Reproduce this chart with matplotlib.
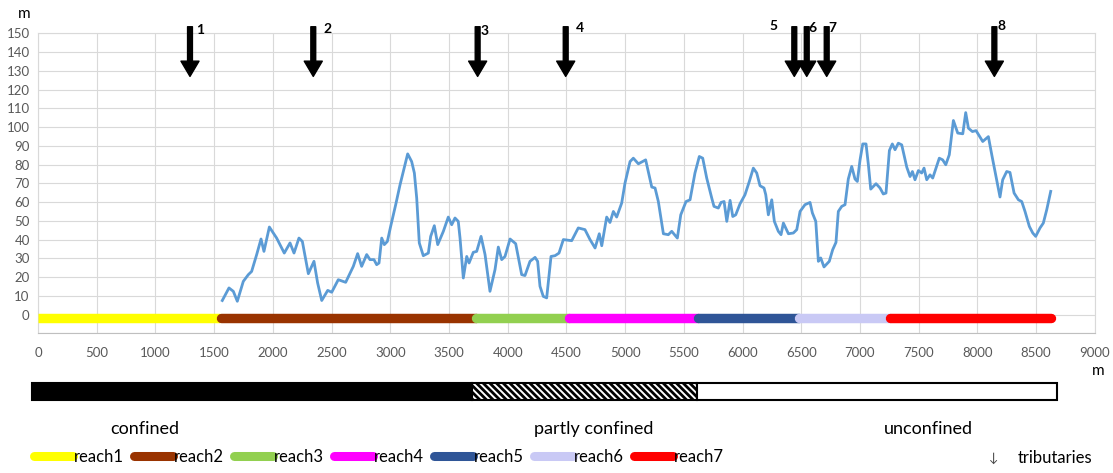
import matplotlib
matplotlib.use("Agg")
import matplotlib.pyplot as plt
from matplotlib.lines import Line2D

plt.rcParams["font.family"] = ["Lato", "DejaVu Sans"]
plt.rcParams["hatch.linewidth"] = 2.0

# ---- data ----
dist = [1569, 1626, 1663, 1697, 1748, 1791, 1819, 1862, 1899, 1924, 1970, 2032, 2097, 2146,
        2180, 2222, 2251, 2302, 2350, 2381, 2416, 2467, 2501, 2557, 2620, 2685, 2722, 2756,
        2799, 2827, 2861, 2884, 2904, 2927, 2949, 2975, 3003, 3046, 3083, 3111, 3148, 3182,
        3205, 3225, 3247, 3281, 3324, 3344, 3375, 3404, 3452, 3494, 3523, 3551, 3579, 3594,
        3622, 3651, 3671, 3707, 3736, 3773, 3807, 3849, 3892, 3920, 3949, 3977, 4020, 4068,
        4119, 4147, 4190, 4233, 4255, 4275, 4303, 4332, 4369, 4403, 4437, 4474, 4545, 4601,
        4658, 4701, 4744, 4780, 4801, 4843, 4871, 4900, 4928, 4971, 4999, 5042, 5070, 5113,
        5175, 5227, 5255, 5283, 5326, 5368, 5397, 5445, 5474, 5519, 5553, 5595, 5632, 5661,
        5695, 5738, 5757, 5794, 5817, 5843, 5866, 5894, 5917, 5942, 5979, 6021, 6058, 6092,
        6121, 6149, 6183, 6198, 6220, 6249, 6271, 6305, 6328, 6348, 6391, 6433, 6462, 6490,
        6532, 6575, 6595, 6624, 6646, 6666, 6694, 6739, 6768, 6796, 6816, 6845, 6873, 6901,
        6930, 6958, 6978, 7001, 7024, 7052, 7072, 7092, 7137, 7171, 7199, 7222, 7251, 7276,
        7299, 7327, 7356, 7399, 7427, 7447, 7469, 7498, 7526, 7546, 7569, 7597, 7620, 7648,
        7676, 7705, 7731, 7761, 7796, 7833, 7876, 7901, 7924, 7958, 7989, 8046, 8094, 8123,
        8159, 8193, 8216, 8250, 8278, 8313, 8350, 8378, 8406, 8443, 8472, 8497, 8534, 8562,
        8591, 8625]
width = [7.5, 14.2, 12.4, 7.1, 17.7, 21.3, 23, 32, 40.3, 33.7, 46.7, 40.8, 32.8, 38.2,
         32.8, 40.8, 39, 21.8, 28.4, 16.9, 7.5, 12.9, 11.9, 18.6, 17.2, 25.7, 32.5, 25.7,
         32, 29.3, 29.3, 26.6, 27.5, 40.8, 37.3, 39, 47, 58.6, 69.2, 76.3, 85.7, 81.6,
         75.5, 62.1, 38.2, 31.4, 32.8, 41.7, 47.4, 37.3, 44.4, 52, 47.9, 51.5, 49.7, 40.8,
         19.5, 31, 27.5, 33.2, 33.7, 41.7, 32, 12.4, 24, 36, 29.3, 31, 40.3, 37.8,
         21.3, 20.8, 28.4, 30.5, 28.4, 15.1, 9.7, 8.9, 31, 31.4, 32.8, 40, 39.4, 46.2,
         45.3, 40, 35.5, 43.1, 36.7, 52, 49.1, 55, 52, 59.5, 70.1, 81.6, 83.4, 80.4,
         82.5, 68, 67.5, 60.3, 43.1, 42.6, 44.4, 40.8, 53.2, 60.3, 61.2, 75.5, 84.3, 83.4,
         72.8, 62.1, 57.7, 56.8, 59.8, 60.3, 49.7, 60.9, 52.3, 53.2, 59.1, 63.9, 71, 78.1,
         75.5, 68.7, 67.5, 63.9, 53.2, 61.2, 49.7, 44.4, 42.6, 48.8, 43.1, 43.5, 45.3, 55,
         58.6, 59.8, 54.2, 49.7, 28.4, 30.2, 25.4, 28.4, 34.6, 38.5, 55, 57.7, 58.6, 72.3,
         79, 72.3, 71, 82.5, 91, 91, 79.9, 66.9, 69.8, 67.5, 64.3, 64.8, 87.5, 91,
         87.9, 91.4, 90.5, 78.6, 73.6, 76.3, 71.9, 76.8, 75.5, 78.1, 71.9, 74.5, 72.8, 78.1,
         83.4, 82.5, 79.9, 85.2, 103.5, 96.8, 96.4, 107.7, 99.4, 97.6, 98.1, 92.3, 94.9, 85.2,
         73.6, 62.7, 71.9, 76.3, 75.8, 64.8, 61.2, 60.3, 55, 47, 43.5, 41.7, 46.2, 48.8,
         55.9, 65.7]

reach_names = ["reach1", "reach2", "reach3", "reach4", "reach5", "reach6", "reach7"]
reach_start = [0, 1555, 3730, 4525, 5625, 6480, 7255]
reach_end = [1550, 3730, 4520, 5625, 6480, 7255, 8625]
reach_colors = ["#ffff00", "#993300", "#92d050", "#ff00ff", "#2f5597", "#c9c9f5", "#ff0000"]

trib_labels = ["1", "2", "3", "4", "5", "6", "7", "8"]
trib_x = [1294, 2344, 3744, 4494, 6441, 6547, 6717, 8145]
trib_label_dx = [85, 120, 60, 120, -180, 45, 45, 60]
trib_label_y = [151.5, 152.5, 151, 153, 154, 153, 153, 154]

conf_names = ["confined", "partly confined", "unconfined"]
conf_start = [-50, 3700, 5610]
conf_end = [3700, 5610, 8680]
conf_label_x = [911, 4734, 7580]

# ---- figure ----
fig = plt.figure(figsize=(11.13, 4.73), dpi=100)
ax = fig.add_axes([0.0342, 0.2953, 0.9494, 0.6343])

ax.plot(dist, width, color="#5b9bd5", lw=2.0, zorder=3)

for i, (s, e, c) in enumerate(zip(reach_start, reach_end, reach_colors)):
    ax.plot([s, e], [-2, -2], color=c, lw=6.8,
            solid_capstyle="butt" if i == 0 else "round", zorder=4)

for x, lab, dx, ly in zip(trib_x, trib_labels, trib_label_dx, trib_label_y):
    ax.annotate("", xy=(x, 127), xytext=(x, 153.5), annotation_clip=False,
                arrowprops=dict(facecolor="black", edgecolor="black", width=3.5,
                                headwidth=13, headlength=11, shrink=0))
    ax.text(x + dx, ly, lab, fontsize=10, fontweight="bold", ha="center", va="center",
            clip_on=False)

ax.set_xlim(0, 9000)
ax.set_ylim(-10, 150)
ax.set_xticks(range(0, 9001, 500))
ax.set_yticks(range(0, 151, 10))
ax.set_yticks([-10], minor=True)
ax.grid(True, which="both", color="#d9d9d9", lw=0.8)
ax.tick_params(which="both", length=0, labelsize=9.5, labelcolor="#595959")
ax.tick_params(axis="x", pad=10)
ax.tick_params(axis="y", pad=6)
for side in ["top", "right", "left"]:
    ax.spines[side].set_color("#d9d9d9")
    ax.spines[side].set_linewidth(0.8)
ax.spines["bottom"].set_color("#bfbfbf")
ax.set_axisbelow(True)

fig.text(0.016, 0.970, "m", fontsize=11, ha="left", va="center")
fig.text(0.981, 0.216, "m", fontsize=11, ha="left", va="center")

# ---- confinement bar ----
bx = fig.add_axes([0.0342, 0.1543, 0.9494, 0.036])
bx.set_xlim(0, 9000)
bx.set_ylim(0, 1)
fills = ["black", "white", "white"]
hatches = [None, "\\" * 5, None]
for s, e, f, h in zip(conf_start, conf_end, fills, hatches):
    bx.bar(s, 1, width=e - s, align="edge", color=f, edgecolor="black", lw=1.5,
           hatch=h, clip_on=False)
bx.axis("off")
for x, lab in zip(conf_label_x, conf_names):
    bx.text(x, -1.7, lab, fontsize=13, ha="center", va="center", clip_on=False)

# ---- legend row ----
handles = [Line2D([], [], color=c, lw=6.5, solid_capstyle="round") for c in reach_colors]
fig.legend(handles, reach_names, loc="lower left", bbox_to_anchor=(0.0175, -0.014),
           ncol=7, frameon=False, fontsize=12, handlelength=2.3, handletextpad=0.05,
           columnspacing=0.65)
fig.text(0.893, 0.032, "↓", fontsize=9, ha="center", va="center", color="#404040")
fig.text(0.914, 0.032, "tributaries", fontsize=12, ha="left", va="center")

fig.savefig("out.png", dpi=100)
